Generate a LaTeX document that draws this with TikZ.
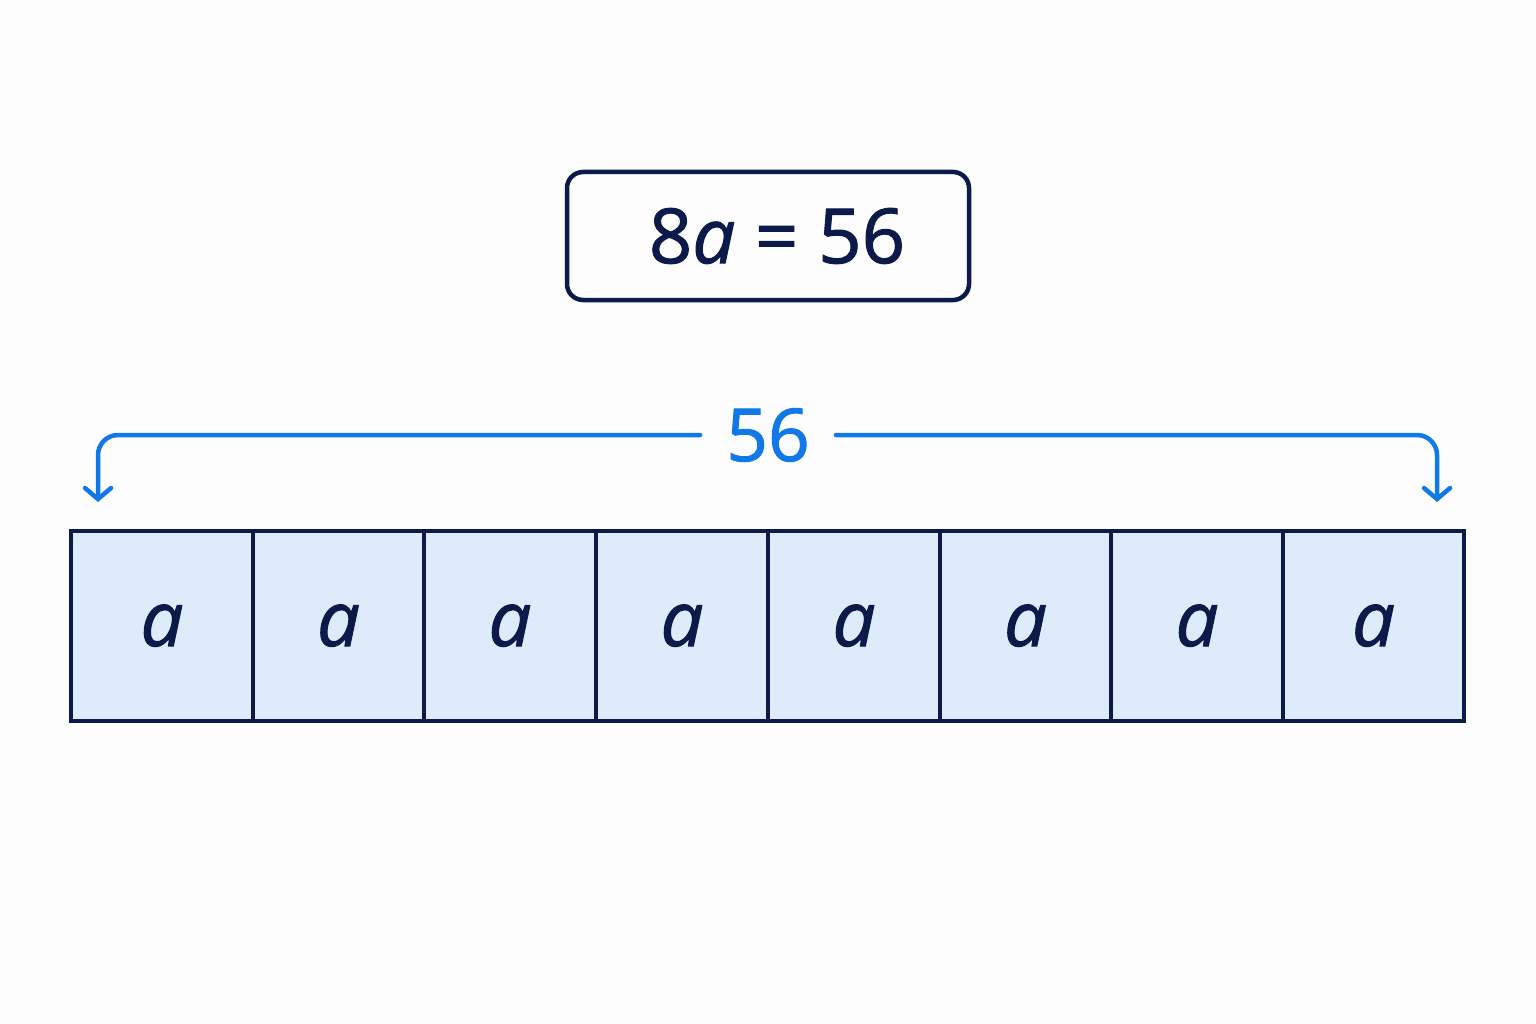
\documentclass[tikz,border=0pt]{standalone}
\usepackage{fontspec}
\setmainfont{Open Sans}[UprightFeatures={FakeBold=1.3}, ItalicFeatures={FakeBold=1.3}]
\usetikzlibrary{arrows.meta}
\definecolor{navy}{HTML}{0B1A48}
\definecolor{cellfill}{HTML}{DDEBFB}
\definecolor{brblue}{HTML}{1178E8}
\definecolor{bg}{HTML}{FDFDFD}
\tikzset{
  cellbox/.style={draw=navy, fill=cellfill, line width=4.5pt, inner sep=0pt, minimum height=190pt,
    font=\fontsize{76}{80}\selectfont\itshape, text=navy, text height=40pt, text depth=0pt},
  eqbox/.style={draw=navy, line width=4.5pt, rounded corners=16pt, minimum width=402pt, minimum height=128pt,
    inner sep=0pt, font=\fontsize{76}{80}\selectfont, text=navy},
  lbl/.style={text=brblue, font=\fontsize{73}{80}\selectfont, inner xsep=26pt, inner ysep=0pt},
  brace/.style={draw=brblue, line width=4.5pt, rounded corners=20pt, line cap=round,
    -{Straight Barb[length=11pt,width=26pt,line cap=round]}}
}
\begin{document}
\begin{tikzpicture}[x=1pt,y=-1pt]
\fill[bg] (0,0) rectangle (1536,1024);
\useasboundingbox (0,0) rectangle (1536,1024);
\node[eqbox] (eq) at (768,236) {\hspace{18pt}8\textit{a} = 56};
\foreach \l/\r [count=\i] in {71/253,253/424,424/596,596/768,768/940,940/1111,1111/1283,1283/1464}{
  \pgfmathsetmacro{\w}{\r-\l}
  \pgfmathsetmacro{\c}{(\r+\l)/2}
  \node[cellbox, minimum width=\w pt] (c\i) at (\c,626) {a};
}
\node[lbl] (tot) at (768,435) {56};
\coordinate (lend) at (98,502);
\coordinate (rend) at (1437,502);
\draw[brace] (tot.west) -| (lend);
\draw[brace] (tot.east) -| (rend);
\end{tikzpicture}
\end{document}
